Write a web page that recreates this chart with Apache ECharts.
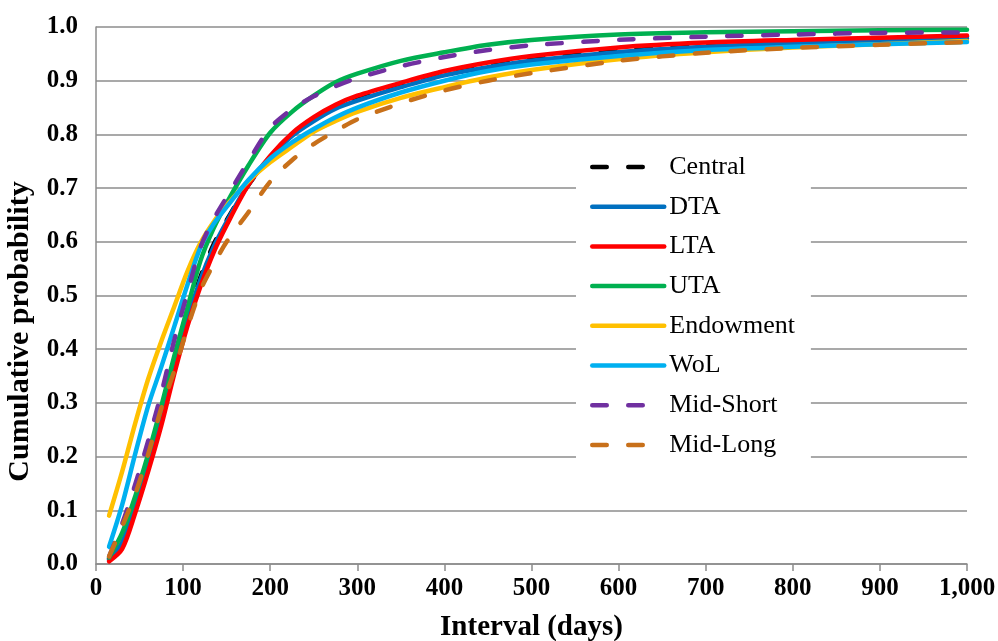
<!DOCTYPE html>
<html>
<head>
<meta charset="utf-8">
<script src="https://cdn.jsdelivr.net/npm/echarts@6/dist/echarts.min.js"></script>
<style>html,body{margin:0;padding:0;background:#fff;}#c{width:998px;height:641px;}</style>
</head>
<body>
<div id="c"></div>
<script>
const days = [15, 30, 45, 60, 75, 90, 105, 120, 135, 150, 175, 200, 225, 250, 275, 300, 350, 400, 450, 500, 600, 700, 800, 900, 1000];
const central   = [0.010, 0.045, 0.112, 0.192, 0.278, 0.368, 0.458, 0.535, 0.595, 0.640, 0.706, 0.758, 0.800, 0.830, 0.852, 0.867, 0.892, 0.914, 0.930, 0.942, 0.958, 0.967, 0.973, 0.978, 0.982];
const dta       = [0.008, 0.040, 0.108, 0.188, 0.276, 0.366, 0.456, 0.530, 0.590, 0.637, 0.707, 0.757, 0.797, 0.825, 0.848, 0.863, 0.888, 0.910, 0.925, 0.937, 0.953, 0.963, 0.970, 0.975, 0.979];
const lta       = [0.005, 0.028, 0.095, 0.173, 0.258, 0.355, 0.443, 0.517, 0.580, 0.631, 0.706, 0.760, 0.802, 0.832, 0.855, 0.872, 0.896, 0.918, 0.934, 0.946, 0.962, 0.971, 0.976, 0.980, 0.984];
const uta       = [0.012, 0.058, 0.126, 0.205, 0.294, 0.388, 0.477, 0.565, 0.625, 0.672, 0.742, 0.803, 0.842, 0.872, 0.897, 0.913, 0.937, 0.953, 0.967, 0.976, 0.986, 0.990, 0.992, 0.994, 0.995];
const endowment = [0.090, 0.172, 0.262, 0.345, 0.415, 0.480, 0.545, 0.598, 0.637, 0.668, 0.713, 0.748, 0.777, 0.805, 0.825, 0.842, 0.868, 0.888, 0.906, 0.920, 0.940, 0.953, 0.962, 0.968, 0.974];
const wol       = [0.032, 0.110, 0.205, 0.295, 0.367, 0.443, 0.520, 0.590, 0.633, 0.665, 0.715, 0.755, 0.785, 0.810, 0.832, 0.850, 0.878, 0.900, 0.918, 0.930, 0.946, 0.957, 0.963, 0.968, 0.972];
const midShort  = [0.014, 0.075, 0.148, 0.230, 0.318, 0.418, 0.505, 0.590, 0.642, 0.683, 0.750, 0.812, 0.847, 0.871, 0.890, 0.905, 0.927, 0.944, 0.957, 0.966, 0.976, 0.982, 0.986, 0.989, 0.990];
const midLong   = [0.014, 0.070, 0.130, 0.205, 0.290, 0.360, 0.440, 0.510, 0.558, 0.600, 0.655, 0.712, 0.752, 0.782, 0.806, 0.828, 0.858, 0.882, 0.900, 0.914, 0.937, 0.952, 0.961, 0.967, 0.972];
const xTicks = ['0', '100', '200', '300', '400', '500', '600', '700', '800', '900', '1,000'];
const seriesNames = ['Central', 'DTA', 'LTA', 'UTA', 'Endowment', 'WoL', 'Mid-Short', 'Mid-Long'];

const colors = ['#000000', '#0070C0', '#FF0000', '#00B050', '#FFC000', '#00B0F0', '#7030A0', '#C8701A'];
const dashed = [true, false, false, false, false, false, true, true];
const values = [central, dta, lta, uta, endowment, wol, midShort, midLong];

const chart = echarts.init(document.getElementById('c'), null, {renderer: 'canvas'});
const serif = '"Liberation Serif", "Times New Roman", serif';

const series = seriesNames.map((name, i) => ({
  name: name,
  type: 'line',
  data: days.map((d, j) => [d, values[i][j]]),
  smooth: 0.3,
  showSymbol: false,
  symbol: 'none',
  color: colors[i],
  lineStyle: {
    color: colors[i],
    width: 4.5,
    type: dashed[i] ? [14.5, 21.5] : 'solid',
    cap: 'round',
    join: 'round'
  },
  z: 2 + i
}));

chart.setOption({
  animation: false,
  backgroundColor: '#ffffff',
  grid: {left: 96, right: 31, top: 27, bottom: 77, containLabel: false, outerBoundsMode: 'none'},
  xAxis: {
    type: 'value', min: 0, max: 1000, interval: 100,
    name: 'Interval (days)', nameLocation: 'middle', nameGap: 49,
    nameTextStyle: {fontFamily: serif, fontWeight: 'bold', fontSize: 29, color: '#000'},
    axisLine: {show: true, lineStyle: {color: '#8c8c8c', width: 1.5}},
    axisTick: {show: true, length: 7, lineStyle: {color: '#8c8c8c', width: 1.5}},
    axisLabel: {
      fontFamily: serif, fontWeight: 'bold', fontSize: 25, color: '#000', margin: 12,
      formatter: v => xTicks[Math.round(v / 100)]
    },
    splitLine: {show: false}
  },
  yAxis: {
    type: 'value', min: 0, max: 1, interval: 0.1,
    name: 'Cumulative probability', nameLocation: 'middle', nameGap: 61, nameRotate: 90,
    nameTextStyle: {fontFamily: serif, fontWeight: 'bold', fontSize: 30, color: '#000', padding: [0, 72, 0, 0]},
    axisLine: {show: true, lineStyle: {color: '#8c8c8c', width: 1.5}},
    axisTick: {show: false},
    axisLabel: {
      fontFamily: serif, fontWeight: 'bold', fontSize: 25, color: '#000', margin: 18,
      formatter: v => v.toFixed(1)
    },
    splitLine: {show: true, lineStyle: {color: '#8c8c8c', width: 1.5}}
  },
  legend: {
    orient: 'vertical',
    left: 576, top: 146,
    padding: [8, 16, 10, 14],
    backgroundColor: '#ffffff',
    itemWidth: 72, itemHeight: 14, itemGap: 13.7,
    itemStyle: {opacity: 0, color: 'rgba(0,0,0,0)', borderWidth: 0},
    lineStyle: {width: 4.5, cap: 'round'},
    textStyle: {fontFamily: serif, fontSize: 26, color: '#000'},
    data: seriesNames
  },
  series: series
});
</script>
</body>
</html>
